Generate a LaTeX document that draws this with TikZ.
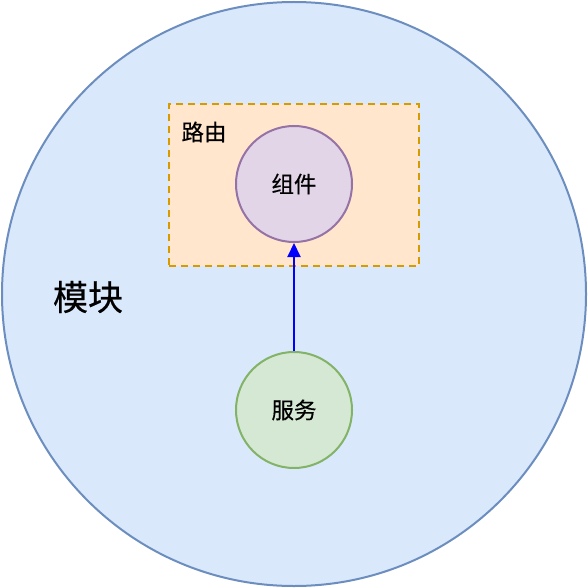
\documentclass[tikz,border=0pt]{standalone}
\usepackage{fontspec}
\newfontfamily\cjk[FakeBold=0.4]{Noto Sans CJK SC}
\usetikzlibrary{arrows.meta}
\definecolor{bluefill}{HTML}{DAE8FC}
\definecolor{bluestroke}{HTML}{6C8EBF}
\definecolor{orangefill}{HTML}{FFE6CC}
\definecolor{orangestroke}{HTML}{D79B00}
\definecolor{purplefill}{HTML}{E1D5E7}
\definecolor{purplestroke}{HTML}{9673A6}
\definecolor{greenfill}{HTML}{D5E8D4}
\definecolor{greenstroke}{HTML}{82B366}
\tikzset{
  lbl/.style={font=\cjk\fontsize{22.5}{26}\selectfont, inner sep=0pt},
  ball/.style={circle, minimum size=116pt, inner sep=0pt, line width=2pt, font=\cjk\fontsize{22.5}{26}\selectfont},
}
\begin{document}
\begin{tikzpicture}[x=1pt,y=-1pt]
\useasboundingbox (0,0) rectangle (588,588);
\node[circle, minimum size=584pt, inner sep=0pt, fill=bluefill, draw=bluestroke, line width=2pt] (module) at (294,294) {};
\node[font=\cjk\fontsize{35}{40}\selectfont, inner sep=0pt] (modlbl) at (88,297) {模块};
\node[draw=orangestroke, fill=orangefill, dash pattern=on 7pt off 5pt, line width=2pt, minimum width=250pt, minimum height=162pt, inner sep=0pt] (route) at (294,185) {};
\node[lbl] (routelbl) at (204,132) {路由};
\node[ball, fill=purplefill, draw=purplestroke] (comp) at (294,184) {组件};
\node[ball, fill=greenfill, draw=greenstroke] (svc) at (294,410) {服务};
\draw[blue, line width=2pt, -{Triangle[length=14pt,width=13pt]}] (svc) -- (comp);
\end{tikzpicture}
\end{document}
